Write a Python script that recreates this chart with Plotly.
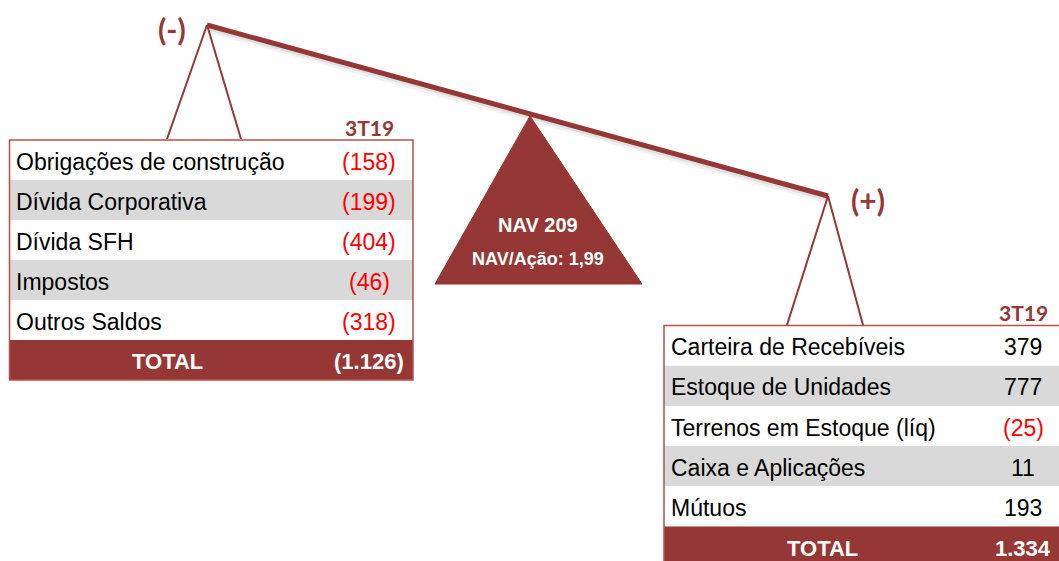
import plotly.graph_objects as go

# ---------------- data ----------------
left_labels = ["Obrigações de construção", "Dívida Corporativa", "Dívida SFH", "Impostos", "Outros Saldos"]
left_values = [-158, -199, -404, -46, -318]
left_total = -1126

right_labels = ["Carteira de Recebíveis", "Estoque de Unidades", "Terrenos em Estoque (líq)",
                "Caixa e Aplicações", "Mútuos"]
right_values = [379, 777, -25, 11, 193]
right_total = 1334

period = "3T19"
nav_value = 209
nav_per_share = 1.99

# ---------------- style ----------------
DARK = "#953735"
BORDER = "#B5504D"
GRAY = "#D9D9D9"
TXT_FONT = "Liberation Sans, Arial, sans-serif"
HEAD_FONT = "Lato, Open Sans, sans-serif"


def fmt(v):
    s = f"{abs(v):,}".replace(",", ".")
    return f"({s})" if v < 0 else s


fig = go.Figure()
shapes = []
annotations = []


def add_table(x0, x1, top, rh, label_x, val_x, total_x, labels, values, total):
    n = len(labels)
    for i, (lab, val) in enumerate(zip(labels, values)):
        y0 = top + i * rh
        y1 = y0 + rh
        shapes.append(dict(type="rect", xref="x", yref="y", x0=x0, x1=x1, y0=y0, y1=y1,
                           fillcolor=GRAY if i % 2 == 1 else "white", line=dict(width=0), layer="below"))
        yc = (y0 + y1) / 2 + 1.5
        annotations.append(dict(x=label_x, y=yc, xref="x", yref="y", text=lab, showarrow=False,
                                xanchor="left", yanchor="middle",
                                font=dict(family=TXT_FONT, size=23, color="black")))
        annotations.append(dict(x=val_x, y=yc, xref="x", yref="y", text=fmt(val), showarrow=False,
                                xanchor="center", yanchor="middle",
                                font=dict(family=TXT_FONT, size=23, color="#FF0000" if val < 0 else "black")))
    # total row
    y0 = top + n * rh
    y1 = y0 + rh
    shapes.append(dict(type="rect", xref="x", yref="y", x0=x0, x1=x1, y0=y0, y1=y1,
                       fillcolor=DARK, line=dict(width=0), layer="below"))
    yc = (y0 + y1) / 2 + 1.5
    annotations.append(dict(x=total_x, y=yc, xref="x", yref="y", text="<b>TOTAL</b>", showarrow=False,
                            xanchor="center", yanchor="middle",
                            font=dict(family=TXT_FONT, size=22, color="white")))
    annotations.append(dict(x=val_x, y=yc, xref="x", yref="y", text="<b>" + fmt(total) + "</b>", showarrow=False,
                            xanchor="center", yanchor="middle",
                            font=dict(family=TXT_FONT, size=22, color="white")))
    # outline
    shapes.append(dict(type="rect", xref="x", yref="y", x0=x0, x1=x1, y0=top, y1=y1,
                       fillcolor="rgba(0,0,0,0)", line=dict(color=BORDER, width=1.5)))
    # period header
    annotations.append(dict(x=val_x, y=top - 13, xref="x", yref="y", text="<b>" + period + "</b>",
                            showarrow=False, xanchor="center", yanchor="middle",
                            font=dict(family=HEAD_FONT, size=21, color=DARK)))


add_table(9.5, 413, 140, 40, 14, 369, 167, left_labels, left_values, left_total)
add_table(664, 1064, 325.5, 40.2, 669, 1023, 822, right_labels, right_values, right_total)

# beam apex points
lx, ly = 207, 25
rx, ry = 828, 196

# beam shadow (soft)
for off, w, a in [(4, 8, 0.05), (3, 5, 0.07)]:
    shapes.append(dict(type="line", xref="x", yref="y", x0=lx + 2, y0=ly + off, x1=rx + 1, y1=ry + off,
                       line=dict(color=f"rgba(0,0,0,{a})", width=w), layer="below"))
# hangers
for (ax, ay, bx1, bx2, by) in [(lx, ly, 167, 241, 139), (rx, ry, 787, 863, 325)]:
    shapes.append(dict(type="line", xref="x", yref="y", x0=ax, y0=ay, x1=bx1, y1=by,
                       line=dict(color=DARK, width=2)))
    shapes.append(dict(type="line", xref="x", yref="y", x0=ax, y0=ay, x1=bx2, y1=by,
                       line=dict(color=DARK, width=2)))
# beam
shapes.append(dict(type="line", xref="x", yref="y", x0=lx, y0=ly, x1=rx, y1=ry,
                   line=dict(color=DARK, width=5)))

# fulcrum triangle
shapes.append(dict(type="path", xref="x", yref="y", path="M 530 116 L 642 284 L 435 284 Z",
                   fillcolor=DARK, line=dict(color=DARK, width=1)))
annotations.append(dict(x=538, y=225, xref="x", yref="y", text=f"<b>NAV {nav_value}</b>", showarrow=False,
                        xanchor="center", yanchor="middle",
                        font=dict(family=TXT_FONT, size=20, color="white")))
annotations.append(dict(x=538, y=259, xref="x", yref="y",
                        text="<b>NAV/Ação: " + f"{nav_per_share:.2f}".replace(".", ",") + "</b>",
                        showarrow=False, xanchor="center", yanchor="middle",
                        font=dict(family=TXT_FONT, size=18, color="white")))

# (-) and (+)
annotations.append(dict(x=172, y=29, xref="x", yref="y", text="<b>(-)</b>", showarrow=False,
                        xanchor="center", yanchor="middle", font=dict(family=HEAD_FONT, size=30, color=DARK)))
annotations.append(dict(x=868, y=200, xref="x", yref="y", text="<b>(+)</b>", showarrow=False,
                        xanchor="center", yanchor="middle", font=dict(family=HEAD_FONT, size=30, color=DARK)))

fig.update_layout(
    width=1059, height=561,
    margin=dict(l=0, r=0, t=0, b=0),
    paper_bgcolor="white", plot_bgcolor="white",
    xaxis=dict(range=[0, 1059], visible=False, fixedrange=True),
    yaxis=dict(range=[561, 0], visible=False, fixedrange=True),
    shapes=shapes, annotations=annotations, showlegend=False,
)

fig.write_html("out.html", config={"displayModeBar": False},
               post_script="document.body.style.margin='0';document.body.style.overflow='hidden';")
